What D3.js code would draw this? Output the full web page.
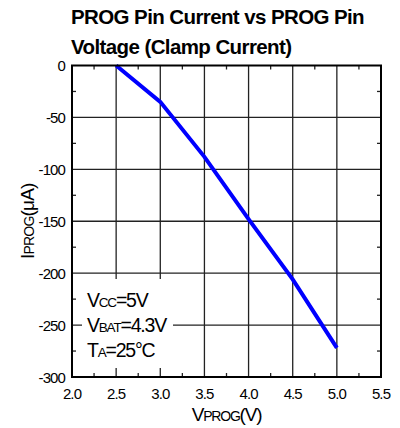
<!DOCTYPE html>
<html><head><meta charset="utf-8">
<script src="https://cdn.jsdelivr.net/npm/d3@7"></script>
<style>body{margin:0;background:#fff}svg{display:block}</style>
</head><body>
<svg id="c" width="400" height="428"></svg>
<script>
const vprog = [2.5, 3.0, 3.5, 4.0, 4.5, 5.0];
const iprog = [0, -35, -88, -148, -206, -272];
const xTicks = [2.0, 2.5, 3.0, 3.5, 4.0, 4.5, 5.0, 5.5];
const yTicks = [0, -50, -100, -150, -200, -250, -300];
const titleLines = ["PROG Pin Current vs PROG Pin", "Voltage (Clamp Current)"];

const svg = d3.select("#c");
const font = "'Liberation Sans', Arial, sans-serif";
const L = 72, R = 381, T = 65.5, B = 377;
const x = d3.scaleLinear().domain([2.0, 5.5]).range([L, R]);
const y = d3.scaleLinear().domain([0, -300]).range([T, B]);

// title
svg.selectAll("text.title").data(titleLines).join("text")
  .attr("x", 71).attr("y", (d, i) => 23.5 + i * 30)
  .attr("font-family", font).attr("font-weight", "bold").attr("font-size", 20.5)
  .attr("letter-spacing", -0.6).attr("fill", "#000").text(d => d);

const g = svg.append("g");
// gridlines
g.selectAll("line.vx").data(xTicks.slice(1, -1)).join("line")
  .attr("x1", d => x(d)).attr("x2", d => x(d)).attr("y1", T).attr("y2", B)
  .attr("stroke", "#222").attr("stroke-width", 1.3);
g.selectAll("line.hy").data(yTicks.slice(1, -1)).join("line")
  .attr("y1", d => y(d)).attr("y2", d => y(d)).attr("x1", L).attr("x2", R)
  .attr("stroke", "#222").attr("stroke-width", 1.3);
// minor ticks
const xMinor = d3.range(xTicks.length - 1).map(i => (xTicks[i] + xTicks[i + 1]) / 2);
const yMinor = d3.range(yTicks.length - 1).map(i => (yTicks[i] + yTicks[i + 1]) / 2);
xMinor.forEach(v => {
  g.append("line").attr("x1", x(v)).attr("x2", x(v)).attr("y1", B).attr("y2", B - 4).attr("stroke", "#222").attr("stroke-width", 1.3);
  g.append("line").attr("x1", x(v)).attr("x2", x(v)).attr("y1", T).attr("y2", T + 4).attr("stroke", "#222").attr("stroke-width", 1.3);
});
yMinor.forEach(v => {
  g.append("line").attr("y1", y(v)).attr("y2", y(v)).attr("x1", L).attr("x2", L + 4).attr("stroke", "#222").attr("stroke-width", 1.3);
  g.append("line").attr("y1", y(v)).attr("y2", y(v)).attr("x1", R).attr("x2", R - 4).attr("stroke", "#222").attr("stroke-width", 1.3);
});

// data line
g.append("path").datum(vprog.map((v, i) => [v, iprog[i]]))
  .attr("d", d3.line().x(d => x(d[0])).y(d => y(d[1])))
  .attr("fill", "none").attr("stroke", "#0000ff").attr("stroke-width", 4);

// annotation box
g.append("rect").attr("x", 82).attr("y", 279).attr("width", 91).attr("height", 89).attr("fill", "#fff");
const ann = [["V", "CC", "=5V"], ["V", "BAT", "=4.3V"], ["T", "A", "=25°C"]];
ann.forEach((a, i) => {
  const t = g.append("text").attr("x", 87).attr("y", 307 + i * 25)
    .attr("font-family", font).attr("font-size", 19.5).attr("letter-spacing", -1.2).attr("fill", "#000");
  t.append("tspan").text(a[0]);
  t.append("tspan").attr("font-size", 13.5).text(a[1]);
  t.append("tspan").text(a[2]);
});

// frame
g.append("rect").attr("x", L).attr("y", T).attr("width", R - L).attr("height", B - T)
  .attr("fill", "none").attr("stroke", "#000").attr("stroke-width", 2);

// tick labels
svg.selectAll("text.xt").data(xTicks).join("text")
  .attr("x", d => x(d)).attr("y", 399).attr("text-anchor", "middle")
  .attr("font-family", font).attr("font-size", 15).attr("letter-spacing", -0.9).text(d => d.toFixed(1));
svg.selectAll("text.yt").data(yTicks).join("text")
  .attr("x", 65).attr("y", d => y(d) + 5.5).attr("text-anchor", "end")
  .attr("font-family", font).attr("font-size", 15).attr("letter-spacing", -0.9).text(d => d);

// axis titles
const xl = svg.append("text").attr("x", (L + R) / 2).attr("y", 421).attr("text-anchor", "middle")
  .attr("font-family", font).attr("font-size", 19).attr("letter-spacing", -1.2);
xl.append("tspan").text("V");
xl.append("tspan").attr("font-size", 14).text("PROG");
xl.append("tspan").text("(V)");

const yl = svg.append("text").attr("transform", `translate(34,${(T + B) / 2}) rotate(-90)`)
  .attr("text-anchor", "middle").attr("font-family", font).attr("font-size", 19).attr("letter-spacing", -0.8);
yl.append("tspan").text("I");
yl.append("tspan").attr("font-size", 14).text("PROG");
yl.append("tspan").text("(μA)");
</script>
</body></html>
